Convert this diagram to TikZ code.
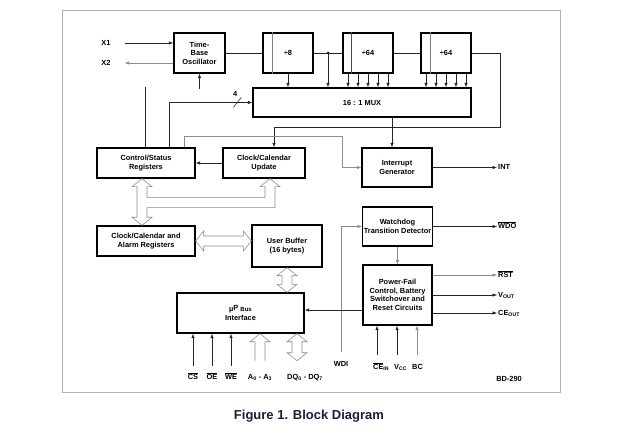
\documentclass[tikz,border=0pt]{standalone}
\usepackage{fontspec}
\setmainfont{Liberation Sans}
\usepackage{xcolor}
\usepackage{tikz}
\usetikzlibrary{arrows.meta,calc}

\definecolor{capblue}{RGB}{28,28,56}
\newcommand{\ovl}[1]{$\overline{\mbox{#1}}$}
\newcommand{\vbus}[2]{\draw[bus] (#1) -- ++(10,8) -- ++(-5,0) -- ($(#2)+(5,-8)$) -- ++(5,0) -- (#2) -- ++(-10,-8) -- ++(5,0) -- ($(#1)+(-5,8)$) -- ++(-5,0) -- cycle;}
\newcommand{\hbus}[2]{\draw[bus] (#1) -- ++(8,-10) -- ++(0,5) -- ($(#2)+(-8,-5)$) -- ++(0,-5) -- (#2) -- ++(-8,10) -- ++(0,-5) -- ($(#1)+(8,5)$) -- ++(0,5) -- cycle;}

\begin{document}
\begin{tikzpicture}[
  x=1pt, y=-1pt,
  >={Latex[length=4.5pt,width=3.5pt]},
  every node/.style={font=\fontsize{7.4}{8.6}\selectfont\bfseries},
  block/.style={draw, line width=1.4pt, align=center, inner sep=1pt},
  lbl/.style={inner sep=1pt, text height=5pt, text depth=0pt},
  wire/.style={draw=black!85, line width=0.6pt},
  sig/.style={wire, ->},
  faint/.style={draw=black!45, line width=0.6pt, ->},
  bus/.style={draw=black!45, line width=0.6pt, fill=white, line join=miter}
]
\useasboundingbox (0,0) rectangle (620,435);
\draw[black!30, line width=0.5pt] (62,10) rectangle (560,392);

\node[block, minimum width=51, minimum height=40] (osc) at (199.5,53) {Time-\\Base\\Oscillator};
\node[block, minimum width=50, minimum height=40] (div8) at (288,53) {÷8};
\node[block, minimum width=50, minimum height=40] (div64a) at (368,53) {÷64};
\node[block, minimum width=50, minimum height=40] (div64b) at (446,53) {÷64};
\node[block, minimum width=218, minimum height=29] (mux) at (362,102.5) {16 : 1 MUX};
\node[block, minimum width=98, minimum height=30] (cs) at (146,163) {Control/Status\\Registers};
\node[block, minimum width=82, minimum height=30] (ccu) at (264,163) {Clock/Calendar\\Update};
\node[block, minimum width=70, minimum height=39] (intgen) at (397,167.5) {Interrupt\\Generator};
\node[block, minimum width=98, minimum height=30] (ccar) at (146,241) {Clock/Calendar and\\Alarm Registers};
\node[block, minimum width=70, minimum height=42] (ubuf) at (287,246) {User Buffer\\(16 bytes)};
\node[block, minimum width=69, minimum height=39] (wdog) at (397.5,226.5) {Watchdog\\Transition Detector};
\node[block, minimum width=69, minimum height=60] (pwr) at (397.5,295) {Power-Fail\\Control, Battery\\Switchover and\\Reset Circuits};
\node[block, minimum width=127, minimum height=40] (bus) at (240.5,313) {µ\raisebox{1.5pt}{P} {\fontsize{6}{7}\selectfont Bus}\\Interface};

\draw[black!50, line width=0.5pt] ([xshift=10]div8.north west) -- ([xshift=10]div8.south west);
\draw[black!70, line width=0.5pt] ([xshift=9]div64a.north west) -- ([xshift=9]div64a.south west);
\draw[black!50, line width=0.5pt] ([xshift=10]div64b.north west) -- ([xshift=10]div64b.south west);

\node[lbl] (x1) at (106,43) {X1};
\node[lbl] (x2) at (106,63) {X2};
\node[lbl] (four) at ([xshift=-17,yshift=8]mux.west) {4};
\node[lbl, anchor=west] (int) at (497,167.5) {INT};
\node[lbl, anchor=west] (wdo) at (497,226.5) {\ovl{WDO}};
\node[lbl, anchor=west] (rst) at (497,275) {\ovl{RST}};
\node[lbl, anchor=west] (vout) at (497,295) {V\textsubscript{OUT}};
\node[lbl, anchor=west] (ceout) at (497,313) {CE\textsubscript{OUT}};
\node[lbl] (wdi) at (341,364) {WDI};
\node[lbl, anchor=west] (cein) at (372,367) {\ovl{CE}\textsubscript{IN}};
\node[lbl, anchor=west] (vcc) at (393,367) {V\textsubscript{CC}};
\node[lbl, anchor=west] (bc) at (411,367) {BC};
\node[lbl] (ncs) at (193,377) {\ovl{CS}};
\node[lbl] (noe) at (212,377) {\ovl{OE}};
\node[lbl] (nwe) at (231,377) {\ovl{WE}};
\node[lbl] (addr) at (260,377) {A\textsubscript{0} - A\textsubscript{3}};
\node[lbl] (data) at (305,377) {DQ\textsubscript{0} - DQ\textsubscript{7}};
\node[lbl] (ref) at (509,379) {BD-290};
\node[font=\fontsize{13}{15}\selectfont\bfseries, text=capblue] (cap) at (309,416) {Figure 1. Block Diagram};

\draw[sig] ([xshift=13]x1.east) -- (x1 -| osc.west);
\draw[faint] (x2 -| osc.west) -- ([xshift=13]x2.east);
\draw[wire] (osc) -- (div8);
\draw[wire] (div8) -- (div64a);
\draw[wire] (div64a) -- (div64b);
\coordinate (tap) at ($(div8.east)!0.5!(div64a.west)$);
\fill (tap) circle (1.5pt);
\draw[sig] (tap) -- (tap |- mux.north);
\draw[sig] (div8.south) -- (div8.south |- mux.north);
\foreach \dx in {-20,-10,0,10,20} {
  \draw[sig] ([xshift=\dx]div64a.south) -- ([xshift=\dx]div64a.south |- mux.north);
  \draw[sig] ([xshift=\dx]div64b.south) -- ([xshift=\dx]div64b.south |- mux.north);
}
\coordinate (loop) at ([xshift=29,yshift=-74]div64b.east);
\draw[sig] (div64b.east) -| (loop) -| ([xshift=10]ccu.north);
\draw[sig] ([xshift=-5]intgen.north |- mux.south) -- ([xshift=-5]intgen.north);
\draw[sig] ([xshift=23]cs.north) |- (mux.west);
\draw[wire] ([xshift=-19,yshift=-5]mux.west) -- ++(8,-10);
\draw[wire] ([xshift=-1]cs.north) -- ++(0,-60);
\draw[sig] ([yshift=-15]osc.south) -- (osc.south);
\draw[faint] ([xshift=38]cs.north) -- ++(0,-11) -| ([xshift=-19]intgen.west) -- (intgen.west);
\draw[sig] (ccu.west) -- (cs.east);
\draw[sig] (intgen.east) -- (int.west);
\draw[sig] (wdog.east) -- (wdo.west);
\draw[faint] ([yshift=8]wdi.north) |- (wdog.west);
\draw[faint] (wdog) -- (pwr);
\draw[faint] (rst.west -| pwr.east) -- (rst.west);
\draw[sig] (vout.west -| pwr.east) -- (vout.west);
\draw[sig] (ceout.west -| pwr.east) -- (ceout.west);
\draw[sig] ([xshift=5,yshift=8]cein.north west) -- ([xshift=5]cein.north west |- pwr.south);
\draw[sig] ([xshift=4,yshift=8]vcc.north west) -- ([xshift=4]vcc.north west |- pwr.south);
\draw[faint] ([xshift=6,yshift=8]bc.north west) -- ([xshift=6]bc.north west |- pwr.south);
\draw[sig] ([yshift=-15]pwr.west) -- ([yshift=-15]pwr.west -| bus.east);
\draw[sig] ([yshift=7]ncs.north) -- (ncs.north |- bus.south);
\draw[sig] ([yshift=7]noe.north) -- (noe.north |- bus.south);
\draw[sig] ([yshift=7]nwe.north) -- (nwe.north |- bus.south);

\coordinate (bt) at ([xshift=-4]cs.south);
\coordinate (bb) at ([xshift=-4]ccar.north);
\coordinate (bu) at ([xshift=6]ccu.south);
\draw[bus] (bt) -- ++(10,8) -- ++(-5,0) -- ($(bt)+(5,19)$) -- ($(bu)+(-5,19)$) -- ++(0,-11) -- ++(-5,0) -- (bu) -- ++(10,8) -- ++(-5,0) -- ($(bu)+(5,29)$) -- ($(bt)+(5,29)$) -- ($(bb)+(5,-8)$) -- ++(5,0) -- (bb) -- ++(-10,-8) -- ++(5,0) -- ($(bt)+(-5,8)$) -- ++(-5,0) -- cycle;
\hbus{ccar.east}{ccar.east -| ubuf.west}
\vbus{ubuf.south}{ubuf.south |- bus.north}
\coordinate (dq) at ([xshift=56.5]bus.south);
\vbus{dq}{$(dq)+(0,27)$}
\coordinate (ad) at ([xshift=19.5]bus.south);
\draw[bus, fill=none] ($(ad)+(5,27)$) -- ($(ad)+(5,8)$) -- ++(5,0) -- (ad) -- ++(-10,8) -- ++(5,0) -- ($(ad)+(-5,27)$);
\end{tikzpicture}
\end{document}
